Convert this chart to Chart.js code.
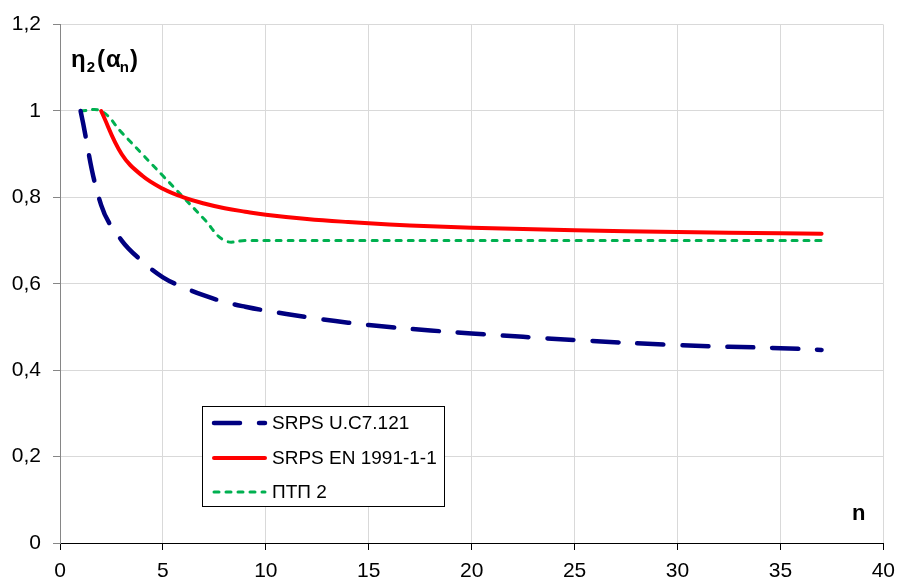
<!DOCTYPE html>
<html>
<head>
<meta charset="utf-8">
<script src="https://cdn.jsdelivr.net/npm/chart.js@4.4.1/dist/chart.umd.min.js"></script>
<style>
  html, body { margin: 0; padding: 0; background: #ffffff; }
  #wrap { width: 904px; height: 581px; }
</style>
</head>
<body>
<div id="wrap"><canvas id="c" width="904" height="581"></canvas></div>
<script>
// ---- data ----
const nUC7 = [1,2,3,4,5,6,7,8,9,10,12,14,16,18,20,25,30,35,37];
const srpsUC7 = [1.000,0.782,0.700,0.652,0.615,0.592,0.573,0.558,0.547,0.538,0.523,0.510,0.500,0.492,0.485,0.470,0.458,0.451,0.447];
const nEN = [2,3,4,5,6,7,8,9,10,12,14,16,18,20,25,30,35,37];
const srpsEN = [1.000,0.900,0.850,0.820,0.800,0.786,0.775,0.767,0.760,0.750,0.743,0.7375,0.733,0.730,0.724,0.720,0.717,0.716];
const nPTP = [1,2,3,4,5,6,7,8,9,10,15,20,25,30,35,37];
const ptp2 = [1.000,1.000,0.950,0.900,0.850,0.800,0.750,0.700,0.700,0.700,0.700,0.700,0.700,0.700,0.700,0.700];
const seriesNames = ['SRPS U.C7.121', 'SRPS EN 1991-1-1', 'ПТП 2'];
const xTickValues = [0,5,10,15,20,25,30,35,40];
const yTickValues = [0,0.2,0.4,0.6,0.8,1,1.2];
const yAxisTitle = ['η', '2', '(', 'α', 'n', ')'];
const xAxisTitle = 'n';

const FONT = '"Liberation Sans", Arial, sans-serif';

function toPoints(xs, ys) {
  return xs.map((n, i) => ({ x: n, y: ys[i] }));
}

const styles = [
  { color: '#000080', width: 4.5, dash: [26, 19], cap: 'round' },
  { color: '#ff0000', width: 4, dash: [], cap: 'round' },
  { color: '#00b050', width: 3, dash: [5, 7], cap: 'round' }
];
const seriesX = [nUC7, nEN, nPTP];
const seriesY = [srpsUC7, srpsEN, ptp2];

const datasets = seriesY.map((ys, i) => ({
  label: seriesNames[i],
  data: toPoints(seriesX[i], ys),
  borderColor: styles[i].color,
  backgroundColor: styles[i].color,
  borderWidth: styles[i].width,
  borderDash: styles[i].dash,
  borderCapStyle: styles[i].cap,
  borderJoinStyle: 'round',
  pointRadius: 0,
  tension: 0.4,
  fill: false
}));

const overlay = {
  id: 'overlay',
  afterDraw(chart) {
    const ctx = chart.ctx;
    ctx.save();
    ctx.fillStyle = '#000';
    ctx.textBaseline = 'alphabetic';
    ctx.textAlign = 'left';
    // y-axis title  η2 (αn)
    const big = 'bold 24px ' + FONT, small = 'bold 15px ' + FONT;
    let x = 71;
    const base = 67, subBase = 72;
    ctx.font = big; ctx.fillText(yAxisTitle[0], x, base); x += ctx.measureText(yAxisTitle[0]).width + 1;
    ctx.font = small; ctx.fillText(yAxisTitle[1], x, subBase); x += ctx.measureText(yAxisTitle[1]).width + 2;
    ctx.font = big; ctx.fillText(yAxisTitle[2], x, base); x += ctx.measureText(yAxisTitle[2]).width + 1;
    ctx.fillText(yAxisTitle[3], x, base); x += ctx.measureText(yAxisTitle[3]).width - 1;
    ctx.font = small; ctx.fillText(yAxisTitle[4], x, subBase); x += ctx.measureText(yAxisTitle[4]).width + 1;
    ctx.font = big; ctx.fillText(yAxisTitle[5], x, base);
    // x-axis title n
    ctx.font = 'bold 22px ' + FONT;
    ctx.fillText(xAxisTitle, 852, 520);

    // legend
    const bx = 202.5, by = 406.5, bw = 242, bh = 100;
    ctx.fillStyle = '#ffffff';
    ctx.fillRect(bx, by, bw, bh);
    ctx.strokeStyle = '#000';
    ctx.lineWidth = 1;
    ctx.setLineDash([]);
    ctx.strokeRect(bx, by, bw, bh);
    const rows = [423, 458, 492];
    for (let i = 0; i < 3; i++) {
      const s = styles[i];
      ctx.beginPath();
      ctx.strokeStyle = s.color;
      ctx.lineWidth = s.width;
      ctx.lineCap = s.cap;
      ctx.setLineDash(s.dash);
      ctx.moveTo(214, rows[i]);
      ctx.lineTo(265, rows[i]);
      ctx.stroke();
      ctx.setLineDash([]);
      ctx.fillStyle = '#000';
      ctx.font = '19px ' + FONT;
      ctx.textBaseline = 'middle';
      ctx.fillText(seriesNames[i], 272, rows[i] + 1);
    }
    ctx.restore();
  }
};

new Chart(document.getElementById('c'), {
  type: 'line',
  data: { datasets },
  options: {
    responsive: false,
    animation: false,
    devicePixelRatio: 1,
    layout: { padding: { top: 22, right: 17, left: 0, bottom: 0 } },
    plugins: { legend: { display: false }, tooltip: { enabled: false } },
    scales: {
      x: {
        type: 'linear',
        min: 0, max: 40,
        afterBuildTicks(scale) { scale.ticks = xTickValues.map(v => ({ value: v })); },
        afterFit(scale) { scale.height = 38; },
        ticks: {
          color: '#000',
          font: { family: FONT, size: 21 },
          padding: 9,
          maxRotation: 0,
          callback: v => String(v)
        },
        grid: { color: '#d9d9d9', lineWidth: 1, tickColor: '#000', tickLength: 7 },
        border: { color: '#000', width: 1 }
      },
      y: {
        type: 'linear',
        min: 0, max: 1.2,
        afterBuildTicks(scale) { scale.ticks = yTickValues.map(v => ({ value: v })); },
        afterFit(scale) { scale.width = 60; },
        ticks: {
          color: '#000',
          font: { family: FONT, size: 21 },
          padding: 12,
          callback: v => (Math.abs(v - Math.round(v)) < 1e-9 ? String(Math.round(v)) : v.toFixed(1).replace('.', ','))
        },
        grid: { color: '#d9d9d9', lineWidth: 1, tickColor: '#868686', tickLength: 7 },
        border: { color: '#868686', width: 1 }
      }
    }
  },
  plugins: [overlay]
});
</script>
</body>
</html>
